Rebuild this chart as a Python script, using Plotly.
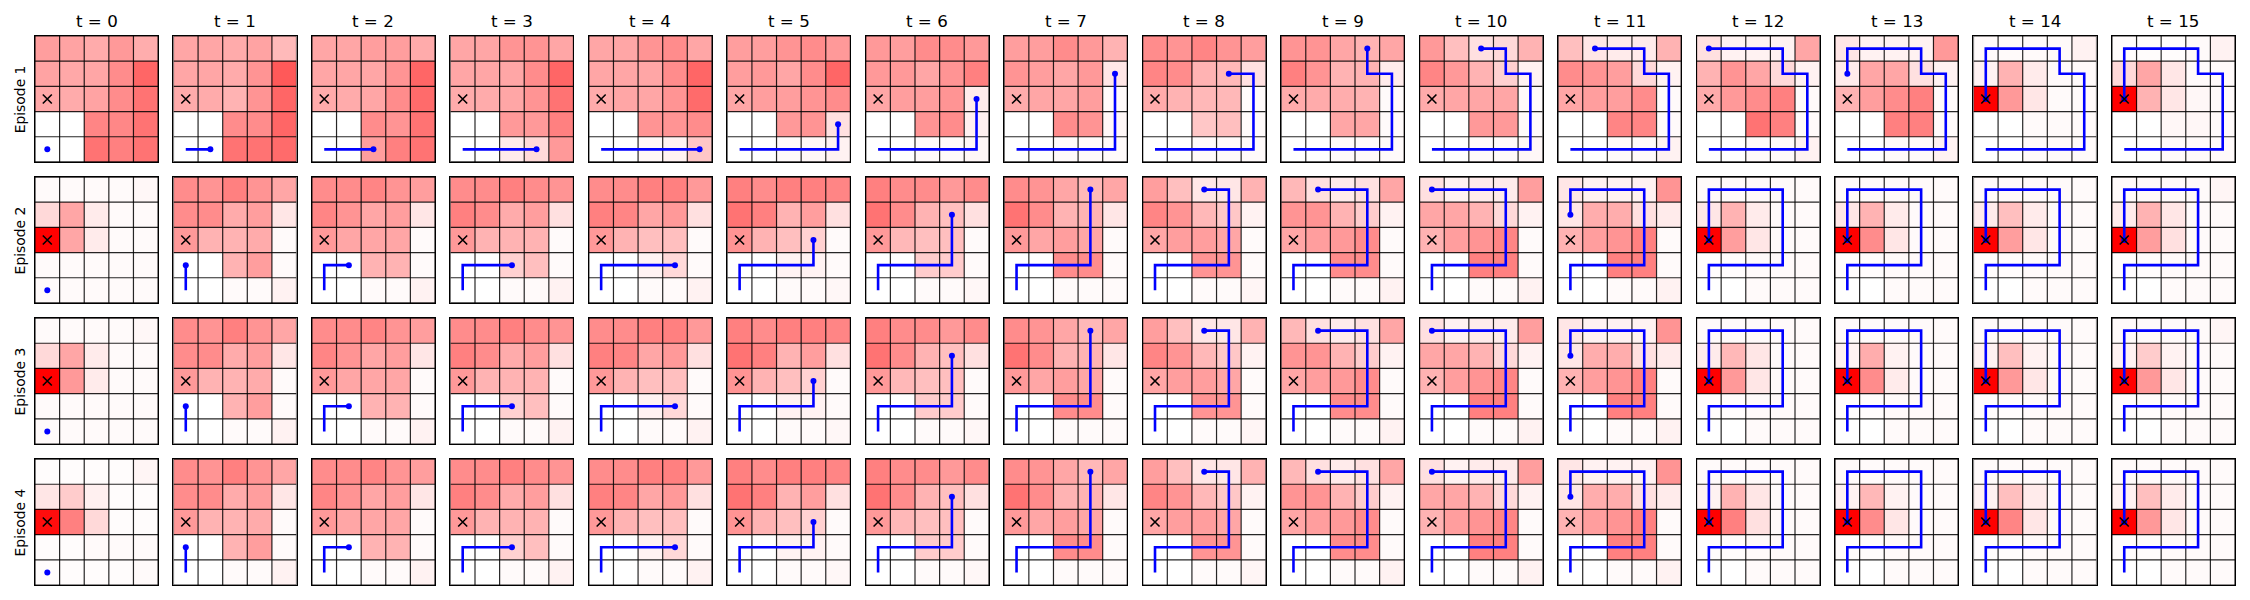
import plotly.graph_objects as go
from plotly.subplots import make_subplots

# ---------------- data ----------------
GRID_N = 5
time_steps = list(range(16))
time_labels = ["t = %d" % t for t in time_steps]
episode_labels = ["Episode 1", "Episode 2", "Episode 3", "Episode 4"]
goal_cell = (0, 2)  # (column, row from top)

# agent trajectories (column, row from top), one cell per time step
ep1_path = [(0, 4), (1, 4), (2, 4), (3, 4), (4, 4), (4, 3), (4, 2), (4, 1),
            (3, 1), (3, 0), (2, 0), (1, 0), (0, 0), (0, 1), (0, 2), (0, 2)]
ep2_path = [(0, 4), (0, 3), (1, 3), (2, 3), (3, 3), (3, 2), (3, 1), (3, 0),
            (2, 0), (1, 0), (0, 0), (0, 1), (0, 2), (0, 2), (0, 2), (0, 2)]
ep3_path = [(0, 4), (0, 3), (1, 3), (2, 3), (3, 3), (3, 2), (3, 1), (3, 0),
            (2, 0), (1, 0), (0, 0), (0, 1), (0, 2), (0, 2), (0, 2), (0, 2)]
ep4_path = [(0, 4), (0, 3), (1, 3), (2, 3), (3, 3), (3, 2), (3, 1), (3, 0),
            (2, 0), (1, 0), (0, 0), (0, 1), (0, 2), (0, 2), (0, 2), (0, 2)]

# goal belief per cell (percent), rows top -> bottom, one grid per time step
ep1_belief = [
    [[38, 36, 33, 40, 32], [36, 34, 35, 45, 60], [34, 33, 36, 45, 55], [0, 0, 48, 47, 55], [0, 0, 55, 50, 55]],
    [[35, 35, 33, 36, 27], [35, 35, 33, 42, 65], [33, 33, 30, 42, 60], [0, 0, 45, 45, 60], [0, 0, 55, 55, 58]],
    [[35, 35, 38, 38, 33], [35, 35, 35, 42, 60], [33, 33, 35, 45, 58], [0, 0, 45, 42, 55], [0, 0, 38, 50, 55]],
    [[35, 35, 42, 42, 35], [35, 35, 35, 45, 60], [33, 33, 35, 42, 55], [0, 0, 40, 40, 50], [0, 0, 8, 15, 40]],
    [[35, 35, 42, 45, 35], [35, 35, 35, 45, 60], [33, 35, 35, 42, 58], [0, 0, 42, 42, 45], [0, 0, 3, 5, 22]],
    [[38, 38, 42, 45, 40], [38, 40, 35, 45, 60], [35, 38, 38, 42, 45], [0, 0, 40, 42, 12], [0, 0, 2, 3, 5]],
    [[40, 38, 45, 45, 40], [40, 40, 35, 42, 50], [35, 38, 38, 42, 8], [0, 0, 42, 45, 6], [0, 0, 2, 2, 3]],
    [[38, 38, 45, 40, 30], [42, 38, 35, 40, 10], [33, 35, 35, 38, 2], [0, 0, 45, 42, 3], [0, 0, 2, 2, 2]],
    [[45, 42, 48, 42, 38], [48, 45, 30, 28, 12], [33, 30, 28, 28, 2], [0, 0, 22, 25, 2], [0, 0, 2, 2, 2]],
    [[42, 42, 35, 30, 35], [50, 42, 30, 30, 8], [33, 33, 32, 30, 2], [0, 0, 35, 35, 2], [0, 0, 2, 2, 2]],
    [[40, 25, 12, 15, 30], [48, 40, 30, 18, 5], [33, 35, 35, 35, 2], [0, 0, 40, 40, 2], [0, 0, 2, 2, 3]],
    [[25, 10, 8, 8, 30], [45, 42, 38, 15, 5], [35, 38, 38, 45, 2], [0, 0, 48, 48, 2], [0, 0, 2, 2, 5]],
    [[12, 5, 5, 5, 35], [30, 42, 35, 15, 5], [33, 40, 45, 50, 2], [0, 0, 55, 50, 2], [0, 0, 2, 2, 5]],
    [[10, 5, 5, 5, 40], [8, 35, 35, 12, 5], [30, 38, 45, 50, 2], [0, 0, 50, 50, 2], [0, 0, 2, 2, 5]],
    [[2, 2, 2, 2, 5], [5, 30, 8, 2, 2], [100, 40, 10, 2, 2], [0, 0, 2, 2, 2], [0, 0, 2, 2, 2]],
    [[1, 1, 1, 2, 5], [15, 35, 10, 2, 2], [100, 30, 10, 3, 2], [0, 0, 3, 3, 2], [0, 0, 2, 2, 2]],
]
ep2_belief = [
    [[2, 2, 2, 2, 3], [15, 35, 8, 2, 2], [100, 35, 8, 2, 2], [2, 2, 2, 2, 2], [2, 2, 2, 2, 2]],
    [[45, 42, 50, 42, 35], [45, 45, 33, 38, 10], [40, 30, 30, 33, 2], [0, 0, 30, 38, 2], [0, 0, 2, 2, 5]],
    [[45, 45, 48, 42, 38], [48, 42, 35, 38, 10], [40, 35, 35, 35, 2], [0, 0, 30, 30, 2], [0, 0, 2, 2, 5]],
    [[45, 45, 50, 45, 42], [50, 45, 33, 38, 12], [40, 30, 30, 30, 2], [0, 0, 18, 25, 2], [0, 0, 2, 2, 5]],
    [[45, 45, 50, 50, 40], [50, 48, 35, 40, 12], [40, 30, 25, 25, 2], [0, 0, 5, 15, 2], [0, 0, 2, 2, 5]],
    [[50, 45, 50, 50, 48], [55, 50, 30, 38, 12], [42, 30, 25, 18, 2], [0, 0, 5, 5, 2], [0, 0, 2, 2, 3]],
    [[50, 45, 45, 40, 45], [55, 45, 30, 25, 12], [40, 28, 25, 25, 2], [0, 0, 20, 20, 2], [0, 0, 2, 2, 3]],
    [[45, 42, 35, 28, 35], [55, 45, 30, 30, 10], [40, 35, 38, 35, 2], [0, 0, 45, 45, 2], [0, 0, 2, 2, 2]],
    [[38, 25, 10, 10, 30], [48, 42, 28, 22, 5], [35, 38, 38, 35, 2], [0, 0, 42, 42, 2], [0, 0, 2, 2, 4]],
    [[28, 12, 8, 12, 35], [42, 42, 30, 20, 5], [35, 38, 40, 45, 2], [0, 0, 45, 45, 2], [0, 0, 2, 2, 5]],
    [[12, 5, 8, 8, 38], [35, 35, 30, 15, 5], [30, 38, 42, 48, 2], [0, 0, 50, 50, 2], [0, 0, 2, 2, 5]],
    [[10, 5, 5, 5, 42], [10, 32, 32, 12, 8], [30, 38, 42, 50, 2], [0, 0, 50, 50, 2], [0, 0, 2, 2, 5]],
    [[2, 2, 2, 2, 2], [10, 30, 8, 2, 2], [100, 38, 10, 2, 2], [1, 1, 2, 2, 2], [0, 0, 2, 2, 2]],
    [[2, 2, 2, 2, 2], [10, 30, 8, 2, 2], [100, 45, 10, 2, 2], [1, 1, 2, 2, 2], [0, 0, 2, 2, 2]],
    [[2, 2, 2, 2, 2], [8, 25, 8, 2, 2], [100, 38, 10, 2, 2], [1, 1, 2, 2, 2], [0, 0, 2, 2, 2]],
    [[2, 2, 2, 2, 4], [8, 30, 10, 2, 2], [100, 38, 12, 2, 2], [1, 1, 2, 2, 2], [0, 0, 2, 2, 2]],
]
ep3_belief = [
    [[2, 2, 2, 2, 3], [15, 35, 8, 2, 2], [100, 40, 8, 2, 2], [2, 2, 2, 2, 2], [2, 2, 2, 2, 2]],
    [[45, 42, 50, 42, 35], [45, 45, 33, 38, 10], [40, 30, 30, 33, 2], [0, 0, 30, 38, 2], [0, 0, 2, 2, 5]],
    [[45, 45, 48, 42, 38], [48, 42, 35, 38, 10], [40, 35, 35, 35, 2], [0, 0, 30, 30, 2], [0, 0, 2, 2, 5]],
    [[45, 45, 50, 45, 42], [50, 45, 33, 38, 12], [40, 30, 30, 30, 2], [0, 0, 18, 25, 2], [0, 0, 2, 2, 5]],
    [[45, 45, 50, 50, 40], [50, 48, 35, 40, 12], [40, 30, 25, 25, 2], [0, 0, 5, 15, 2], [0, 0, 2, 2, 5]],
    [[50, 45, 50, 50, 48], [55, 50, 30, 38, 12], [42, 30, 25, 18, 2], [0, 0, 5, 5, 2], [0, 0, 2, 2, 3]],
    [[50, 45, 45, 40, 45], [55, 45, 30, 25, 12], [40, 28, 25, 25, 2], [0, 0, 20, 20, 2], [0, 0, 2, 2, 3]],
    [[45, 42, 35, 28, 35], [55, 45, 30, 30, 10], [40, 35, 38, 35, 2], [0, 0, 45, 45, 2], [0, 0, 2, 2, 2]],
    [[38, 25, 10, 10, 30], [48, 42, 28, 22, 5], [35, 38, 38, 35, 2], [0, 0, 42, 42, 2], [0, 0, 2, 2, 4]],
    [[28, 12, 8, 12, 35], [42, 42, 30, 20, 5], [35, 38, 40, 45, 2], [0, 0, 45, 45, 2], [0, 0, 2, 2, 5]],
    [[12, 5, 8, 8, 38], [35, 35, 30, 15, 5], [30, 38, 42, 48, 2], [0, 0, 50, 50, 2], [0, 0, 2, 2, 5]],
    [[10, 5, 5, 5, 42], [10, 32, 32, 12, 8], [30, 38, 42, 50, 2], [0, 0, 50, 50, 2], [0, 0, 2, 2, 5]],
    [[2, 2, 2, 2, 2], [8, 28, 10, 2, 2], [100, 40, 10, 2, 2], [1, 1, 2, 2, 2], [0, 0, 2, 2, 2]],
    [[2, 2, 2, 2, 2], [5, 32, 5, 2, 2], [100, 45, 8, 2, 2], [1, 1, 2, 2, 2], [0, 0, 2, 2, 2]],
    [[2, 2, 2, 2, 2], [5, 25, 5, 2, 2], [100, 40, 10, 2, 2], [1, 1, 2, 2, 2], [0, 0, 2, 2, 2]],
    [[2, 2, 2, 2, 4], [5, 20, 5, 2, 2], [100, 40, 10, 2, 2], [1, 1, 2, 2, 2], [0, 0, 2, 2, 2]],
]
ep4_belief = [
    [[1, 1, 1, 1, 4], [10, 20, 6, 1, 1], [95, 50, 15, 1, 1], [1, 1, 2, 2, 2], [1, 1, 1, 1, 2]],
    [[45, 42, 50, 42, 35], [45, 45, 33, 38, 10], [40, 30, 30, 33, 2], [0, 0, 30, 38, 2], [0, 0, 2, 2, 5]],
    [[45, 45, 48, 42, 38], [48, 42, 35, 38, 10], [40, 35, 35, 35, 2], [0, 0, 30, 30, 2], [0, 0, 2, 2, 5]],
    [[45, 45, 50, 45, 42], [50, 45, 33, 38, 12], [40, 30, 30, 30, 2], [0, 0, 18, 25, 2], [0, 0, 2, 2, 5]],
    [[45, 45, 50, 50, 40], [50, 48, 35, 40, 12], [40, 30, 25, 25, 2], [0, 0, 5, 15, 2], [0, 0, 2, 2, 5]],
    [[50, 45, 50, 50, 48], [55, 50, 30, 38, 12], [42, 30, 25, 18, 2], [0, 0, 5, 5, 2], [0, 0, 2, 2, 3]],
    [[50, 45, 45, 40, 45], [55, 45, 30, 25, 12], [40, 28, 25, 25, 2], [0, 0, 20, 20, 2], [0, 0, 2, 2, 3]],
    [[45, 42, 35, 28, 35], [55, 45, 30, 30, 10], [40, 35, 38, 35, 2], [0, 0, 45, 45, 2], [0, 0, 2, 2, 2]],
    [[38, 25, 10, 10, 30], [48, 42, 28, 22, 5], [35, 38, 38, 35, 2], [0, 0, 42, 42, 2], [0, 0, 2, 2, 4]],
    [[28, 12, 8, 12, 35], [42, 42, 30, 20, 5], [35, 38, 40, 45, 2], [0, 0, 45, 45, 2], [0, 0, 2, 2, 5]],
    [[12, 5, 8, 8, 38], [35, 35, 30, 15, 5], [30, 38, 42, 48, 2], [0, 0, 50, 50, 2], [0, 0, 2, 2, 5]],
    [[10, 5, 5, 5, 42], [10, 32, 32, 12, 8], [30, 38, 42, 50, 2], [0, 0, 50, 50, 2], [0, 0, 2, 2, 5]],
    [[2, 2, 2, 2, 2], [5, 30, 10, 2, 2], [100, 50, 12, 2, 2], [1, 1, 2, 2, 2], [0, 0, 2, 2, 2]],
    [[2, 2, 2, 2, 2], [5, 28, 5, 2, 2], [100, 45, 10, 2, 2], [1, 1, 2, 2, 2], [0, 0, 2, 2, 2]],
    [[2, 2, 2, 2, 2], [5, 25, 8, 2, 2], [100, 48, 10, 2, 2], [1, 1, 2, 2, 2], [0, 0, 2, 2, 2]],
    [[2, 2, 2, 2, 2], [5, 25, 8, 2, 2], [100, 40, 10, 2, 2], [1, 1, 2, 2, 2], [0, 0, 2, 2, 2]],
]

episodes = [
    (ep1_belief, ep1_path),
    (ep2_belief, ep2_path),
    (ep3_belief, ep3_path),
    (ep4_belief, ep4_path),
]

# ---------------- figure ----------------
# The page body has an 8px default margin, so the figure is 16px smaller
# and its margins are reduced to keep panels at the reference positions.
BODY = 8
W, H = 2250 - 2 * BODY, 600 - 2 * BODY
M_L = 35.3 - BODY
M_T = 36 - BODY
M_R = W - (2235.3 - BODY)
M_B = H - (585 - BODY)
n_rows, n_cols = len(episodes), len(time_steps)

fig = make_subplots(rows=n_rows, cols=n_cols,
                    horizontal_spacing=15.4 / (W - M_L - M_R),
                    vertical_spacing=15.1 / (H - M_T - M_B))

cell_idx = list(range(GRID_N))
grid_x, grid_y = [], []
for k in range(GRID_N + 1):
    e = k - 0.5
    grid_x += [-0.5, GRID_N - 0.5, None, e, e, None]
    grid_y += [e, e, None, -0.5, GRID_N - 0.5, None]

for r, (beliefs, path) in enumerate(episodes):
    for c, t in enumerate(time_steps):
        z = [[v / 100.0 for v in row] for row in beliefs[t]]
        fig.add_trace(go.Heatmap(z=z, x=cell_idx, y=cell_idx, zmin=0, zmax=1,
                                 colorscale=[[0, "#ffffff"], [1, "#ff0000"]],
                                 showscale=False, hoverinfo="skip"),
                      row=r + 1, col=c + 1)
        fig.add_trace(go.Scatter(x=grid_x, y=grid_y, mode="lines",
                                 line=dict(color="rgba(0,0,0,0.85)", width=1.2),
                                 hoverinfo="skip", showlegend=False),
                      row=r + 1, col=c + 1)
        px = [p[0] for p in path[:t + 1]]
        py = [p[1] for p in path[:t + 1]]
        fig.add_trace(go.Scatter(x=px, y=py, mode="lines",
                                 line=dict(color="#0000ff", width=2.6),
                                 hoverinfo="skip", showlegend=False),
                      row=r + 1, col=c + 1)
        fig.add_trace(go.Scatter(x=[px[-1]], y=[py[-1]], mode="markers",
                                 marker=dict(color="#0000ff", size=6),
                                 hoverinfo="skip", showlegend=False),
                      row=r + 1, col=c + 1)
        fig.add_trace(go.Scatter(x=[goal_cell[0]], y=[goal_cell[1]], mode="markers",
                                 marker=dict(symbol="x-thin", size=9,
                                             line=dict(color="black", width=1.6)),
                                 hoverinfo="skip", showlegend=False),
                      row=r + 1, col=c + 1)

axis_common = dict(showticklabels=False, ticks="", showgrid=False, zeroline=False,
                   showline=True, mirror=True, linecolor="black", linewidth=1.4,
                   fixedrange=True)
fig.update_xaxes(range=[-0.5, GRID_N - 0.5], **axis_common)
fig.update_yaxes(range=[GRID_N - 0.5, -0.5], **axis_common)

annotations = []
for c, lab in enumerate(time_labels):
    ax = fig.layout["xaxis" if c == 0 else "xaxis%d" % (c + 1)]
    xc = (ax.domain[0] + ax.domain[1]) / 2
    annotations.append(dict(text=lab, x=xc, y=1.0, xref="paper", yref="paper",
                            xanchor="center", yanchor="bottom", yshift=3,
                            showarrow=False,
                            font=dict(family="DejaVu Sans", size=16.7, color="black")))
for r, lab in enumerate(episode_labels):
    idx = r * n_cols + 1
    ay = fig.layout["yaxis" if idx == 1 else "yaxis%d" % idx]
    yc = (ay.domain[0] + ay.domain[1]) / 2
    annotations.append(dict(text=lab, x=0, y=yc, xref="paper", yref="paper",
                            xanchor="center", yanchor="middle", xshift=-14.6,
                            textangle=-90, showarrow=False,
                            font=dict(family="DejaVu Sans", size=13.9, color="black")))

fig.update_layout(width=W, height=H,
                  margin=dict(l=M_L, r=M_R, t=M_T, b=M_B, pad=0),
                  paper_bgcolor="white", plot_bgcolor="white",
                  showlegend=False, annotations=annotations,
                  font=dict(family="DejaVu Sans"))

fig.write_html("out.html")
